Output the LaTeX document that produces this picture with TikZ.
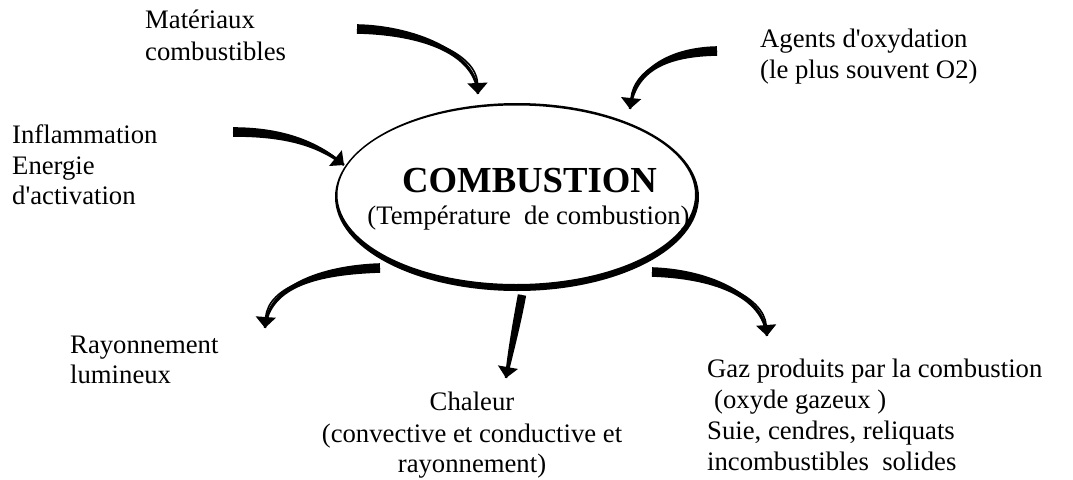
\documentclass[tikz,border=0pt]{standalone}
\usepackage{fontspec}
\setmainfont{Liberation Serif}
\usetikzlibrary{calc,arrows.meta}
% #1 start, #2 ctrl1, #3 ctrl2, #4 tip, #5 half-width at start, #6 half-width near ctrl2
\newcommand\taperarrow[6]{%
  \path ($(#1)!#5!90:(#2)$) coordinate (tA) ($(#1)!#5!-90:(#2)$) coordinate (tB)
        ($(#3)!#6!90:(#4)$) coordinate (mA) ($(#3)!#6!-90:(#4)$) coordinate (mB)
        ($(#4)!1.2pt!-90:(#3)$) coordinate (eA) ($(#4)!1.2pt!90:(#3)$) coordinate (eB);
  \fill (tA) .. controls ($(#2)+(tA)-(#1)$) and (mA) .. (eA) -- (eB)
        .. controls (mB) and ($(#2)+(tB)-(#1)$) .. (tB) -- cycle;
  \draw[shaft] (#1) .. controls (#2) and (#3) .. (#4);
}
\begin{document}
\begin{tikzpicture}[x=1pt,y=-1pt,
  lbl/.style={anchor=base west,inner sep=0pt,font=\fontsize{26.7}{30}\selectfont},
  lblc/.style={anchor=base,inner sep=0pt,font=\fontsize{26.7}{30}\selectfont},
  shaft/.style={line width=1.6pt,-{Triangle[width=20pt,length=11pt]}},
]
\useasboundingbox (0,0) rectangle (1073,479);
% ellipse (thin at top left, thick at bottom right)
\fill[even odd rule] (517,197) ellipse [x radius=182, y radius=94]
                     (516.25,194.75) ellipse [x radius=178.75, y radius=89.25];
\node[inner sep=0pt,anchor=base,font=\bfseries\fontsize{36.7}{40}\selectfont] (comb) at (529.5,192) {COMBUSTION};
\node[lblc] (temp) at (528.5,224) {(Température~ de combustion)};

% labels
\node[lbl] (mat1) at (145,28) {Matériaux};
\node[lbl] (mat2) at (145,60) {combustibles};
\node[lbl] (inf1) at (12,143) {Inflammation};
\node[lbl] (inf2) at (12,174) {Energie};
\node[lbl] (inf3) at (12,204) {d\textquotesingle activation};
\node[lbl] (ag1) at (760,47) {Agents d\textquotesingle oxydation};
\node[lbl] (ag2) at (760,78) {(le plus souvent O2)};
\node[lbl] (ray1) at (70,353) {Rayonnement};
\node[lbl] (ray2) at (70,383) {lumineux};
\node[lblc] (chal1) at (472,410) {Chaleur};
\node[lblc] (chal2) at (472,442) {(convective et conductive et};
\node[lblc] (chal3) at (472,472) {rayonnement)};
\node[lbl] (gaz1) at (707,377) {Gaz produits par la combustion};
\node[lbl] (gaz2) at (714,408) {(oxyde gazeux~)};
\node[lbl] (gaz3) at (707,439) {Suie, cendres, reliquats};
\node[lbl] (gaz4) at (707,470) {incombustibles~ solides};

% arrows
\coordinate (aS) at (357,29);  \coordinate (aC1) at (412,30);  \coordinate (aC2) at (476,50);  \coordinate (aE) at (478,94);
\coordinate (bS) at (717,51);  \coordinate (bC1) at (668,52);  \coordinate (bC2) at (634,70);  \coordinate (bE) at (630,109);
\coordinate (cS) at (233,132); \coordinate (cC1) at (285,132); \coordinate (cC2) at (318,144); \coordinate (cE) at (344,165);
\coordinate (dS) at (380,268); \coordinate (dC1) at (320,270); \coordinate (dC2) at (268,286); \coordinate (dE) at (265,328);
\coordinate (eS) at (522,295); \coordinate (eC1) at (517,322); \coordinate (eC2) at (511,350); \coordinate (eE) at (506,378);
\coordinate (fS) at (652,272); \coordinate (fC1) at (712,274); \coordinate (fC2) at (764,296); \coordinate (fE) at (767,336);
\taperarrow{aS}{aC1}{aC2}{aE}{4.8pt}{2.4pt}
\taperarrow{bS}{bC1}{bC2}{bE}{4.8pt}{2.4pt}
\taperarrow{cS}{cC1}{cC2}{cE}{4.8pt}{2.4pt}
\taperarrow{dS}{dC1}{dC2}{dE}{4.8pt}{2.4pt}
\taperarrow{eS}{eC1}{eC2}{eE}{4.2pt}{3.2pt}
\taperarrow{fS}{fC1}{fC2}{fE}{4.8pt}{2.4pt}
\end{tikzpicture}
\end{document}
